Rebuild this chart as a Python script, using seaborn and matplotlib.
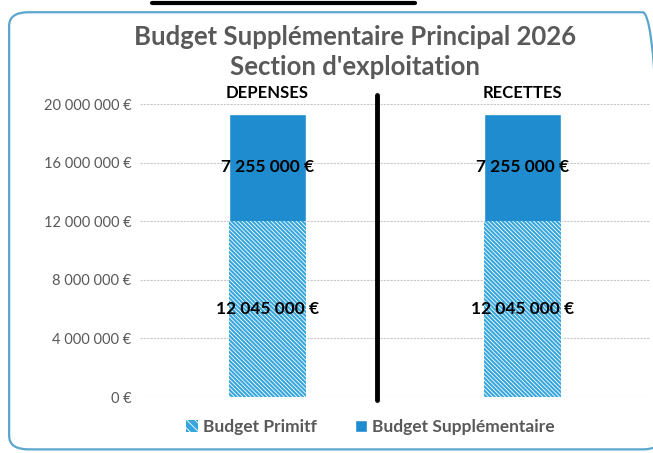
import matplotlib.pyplot as plt
import seaborn as sns
import pandas as pd
from matplotlib.patches import Patch, FancyBboxPatch
from matplotlib.lines import Line2D
from matplotlib.ticker import FuncFormatter

categories = ['DEPENSES', 'RECETTES']
budget_primitif = [12045000, 12045000]
budget_supplementaire = [7255000, 7255000]
series_names = ['Budget Primitf', 'Budget Supplémentaire']
title = "Budget Supplémentaire Principal 2026\nSection d'exploitation"

dark_blue = '#1f8ccf'
light_blue = '#36a6dc'
grey = '#595959'
hatch = '\\' * 8


def euro(v, pos=None):
    return f"{int(v):,}".replace(',', ' ') + ' €'


df = pd.DataFrame({'cat': categories, 'bp': budget_primitif, 'bs': budget_supplementaire})
df['total'] = df['bp'] + df['bs']

sns.set_theme(style='white')
plt.rcParams['font.family'] = ['Lato', 'DejaVu Sans']
plt.rcParams['hatch.linewidth'] = 0.6

fig = plt.figure(figsize=(6.53, 4.53), dpi=100)
ax = fig.add_axes([0.2144, 0.1236, 0.781, 0.6468])

# frame around the chart
fig.add_artist(FancyBboxPatch((0.014, 0.008), 1.0, 0.965, boxstyle='round,pad=0,rounding_size=0.03',
                              transform=fig.transFigure, facecolor='none', edgecolor='#5aa6cc',
                              linewidth=1.6, clip_on=False))
fig.add_artist(Line2D([0.233, 0.636], [0.993, 0.993], color='black', linewidth=3, transform=fig.transFigure))

sns.barplot(data=df, x='cat', y='total', color=dark_blue, width=0.3, saturation=1, ax=ax, zorder=2)
sns.barplot(data=df, x='cat', y='bp', color=light_blue, width=0.3, saturation=1, ax=ax, zorder=3)
for p in ax.patches[len(categories):]:
    p.set_hatch(hatch)
    p.set_edgecolor('white')
    p.set_linewidth(0)

for i, row in df.iterrows():
    ax.text(i, row['bp'] + row['bs'] / 2, euro(row['bs']), ha='center', va='center',
            fontsize=12.5, fontweight='bold', color='black', zorder=5)
    ax.text(i, row['bp'] / 2, euro(row['bp']), ha='center', va='center',
            fontsize=12.5, fontweight='bold', color='black', zorder=5)

ax.set_ylim(0, 20000000)
ax.set_xlim(-0.5, 1.5)
ax.set_yticks(range(0, 20000001, 4000000))
ax.yaxis.set_major_formatter(FuncFormatter(euro))
ax.tick_params(axis='y', labelsize=10.5, colors=grey, length=0, pad=6)
ax.grid(axis='y', color='#c8c8c8', linewidth=0.8, linestyle=(0, (2, 1)))
ax.set_axisbelow(True)
ax.xaxis.tick_top()
ax.tick_params(axis='x', labelsize=12, length=0, pad=2)
for lbl in ax.get_xticklabels():
    lbl.set_fontweight('bold')
    lbl.set_color('black')
ax.set_xlabel('')
ax.set_ylabel('')
sns.despine(ax=ax, left=True, bottom=True)

ax.axvline(0.43, ymin=-0.01, ymax=1.03, color='black', linewidth=3.5, clip_on=False, zorder=4)

fig.text(0.543, 0.885, title, ha='center', va='center', fontsize=18.5, fontweight='bold',
         color=grey, linespacing=1.3)

handles = [Patch(facecolor=light_blue, edgecolor='white', hatch='\\' * 4, linewidth=0),
           Patch(facecolor=dark_blue)]
fig.legend(handles, series_names, loc='center', bbox_to_anchor=(0.567, 0.057), ncol=2, frameon=False,
           handlelength=0.7, handleheight=0.7, handletextpad=0.3, columnspacing=2.2,
           labelcolor=grey, prop={'weight': 'bold', 'size': 12.5})

fig.savefig('out.png', dpi=100)
